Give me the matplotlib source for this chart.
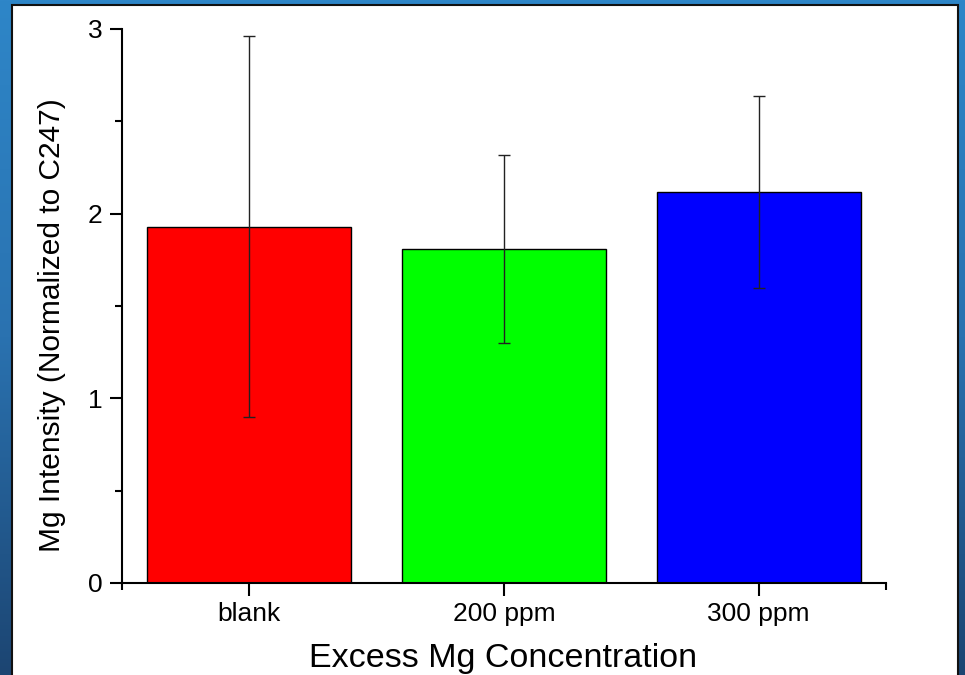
import numpy as np
import matplotlib
matplotlib.use("Agg")
import matplotlib.pyplot as plt
from matplotlib.patches import Rectangle

plt.rcParams['font.family'] = ['Liberation Sans', 'DejaVu Sans']

categories = ["blank", "200 ppm", "300 ppm"]
intensity = [1.93, 1.81, 2.115]
errors = [1.03, 0.51, 0.52]
colors = ["#ff0000", "#00ff00", "#0000ff"]

W, H = 965, 675
fig = plt.figure(figsize=(W / 100, H / 100), dpi=100)

# slide background gradient
bg = fig.add_axes([0, 0, 1, 1], zorder=-10)
grad = np.linspace(0, 1, 256).reshape(-1, 1)
bg.imshow(grad, aspect="auto", cmap=matplotlib.colors.LinearSegmentedColormap.from_list(
    "slide", ["#2e86c8", "#2a72b0", "#1c4572"]), extent=[0, 1, 0, 1], origin="upper")
bg.set_xlim(0, 1)
bg.set_ylim(0, 1)
bg.axis("off")
bg.add_patch(Rectangle((12 / W, -0.01), (958 - 12) / W, (H - 5) / H + 0.01,
                       facecolor="white", edgecolor="#111111", linewidth=1.5,
                       transform=bg.transAxes))

ax = fig.add_axes([122 / W, 1 - 583 / H, (886 - 122) / W, (583 - 29) / H])
ax.patch.set_alpha(0)
x = np.arange(len(categories))
ax.bar(x, intensity, width=0.8, color=colors, edgecolor="black", linewidth=1.0)
ax.errorbar(x, intensity, yerr=errors, fmt="none", ecolor="#222222",
            elinewidth=1.0, capsize=4.5, capthick=1.0)

ax.set_xlim(-0.5, 2.5)
ax.set_ylim(0, 3)
ax.set_xticks(x)
ax.set_xticklabels(categories)
ax.set_xticks([-0.5, 2.5], minor=True)
ax.set_yticks([0, 1, 2, 3])
ax.set_yticks([0.5, 1.5, 2.5], minor=True)
ax.spines["top"].set_visible(False)
ax.spines["right"].set_visible(False)
for s in ["left", "bottom"]:
    ax.spines[s].set_linewidth(1.5)
ax.tick_params(which="major", direction="out", length=9, width=1.5, labelsize=19, pad=5)
ax.tick_params(which="minor", direction="out", length=5, width=1.5)

ax.set_xlabel("Excess Mg Concentration", fontsize=24.5)
ax.set_ylabel("Mg Intensity (Normalized to C247)", fontsize=21.5)
# label centres measured in pixels, converted to axes fractions
ax.xaxis.set_label_coords((503 - 122) / 764, -(659 - 583) / 554)
ax.xaxis.label.set_va("center")
ax.yaxis.set_label_coords(-(122 - 52) / 764, (583 - 325) / 554)
ax.yaxis.label.set_va("center")

fig.savefig("out.png", dpi=100)
